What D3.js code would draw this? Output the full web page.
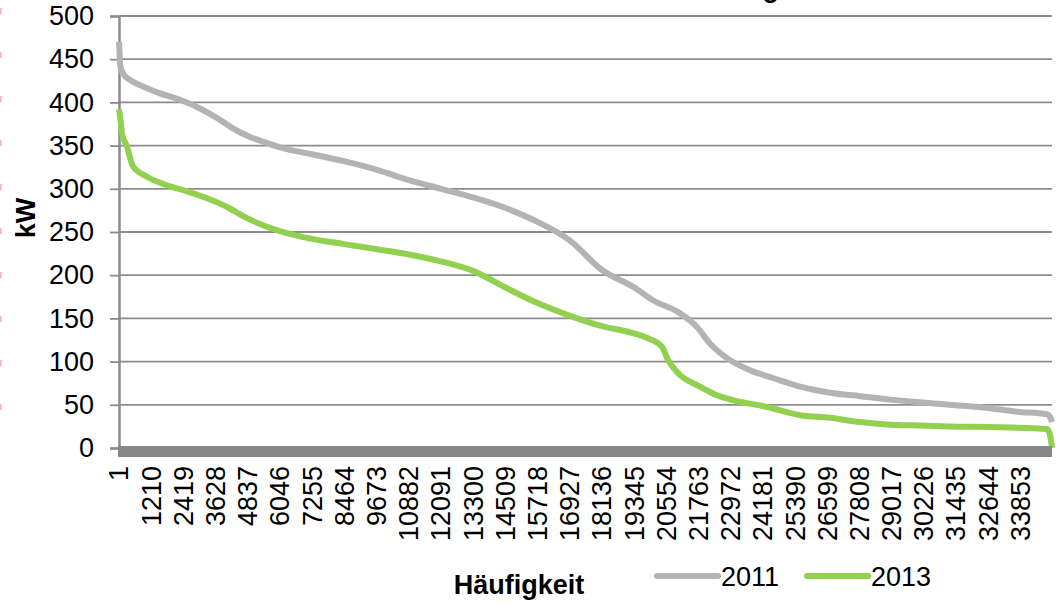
<!DOCTYPE html>
<html>
<head>
<meta charset="utf-8">
<script src="https://cdn.jsdelivr.net/npm/d3@7"></script>
<style>
  html, body { margin: 0; padding: 0; background: #fff; }
  svg { display: block; font-family: "Liberation Sans", Arial, sans-serif; }
</style>
</head>
<body>
<svg id="chart" width="1056" height="605"></svg>
<script>
// Load duration curve: quarter-hour values sorted in descending order
const totalSlots = 35040;
const tickStep = 1209;
const yTicks = [0, 50, 100, 150, 200, 250, 300, 350, 400, 450, 500];

// 2011 sorted load (slot index / kW)
const slots2011 = [1, 56, 188, 413, 789, 1540, 2291, 3042, 3680, 4281, 4920, 5558, 6046, 7248, 8450, 9690, 10891, 12093, 13295, 14497, 15698, 16938, 18140, 19341, 20055, 21069, 21707, 22195, 22834, 23698, 24562, 25576, 26703, 27829, 28956, 30082, 31209, 32448, 33725, 34852, 34965, 35040];
const kw2011 = [470, 441, 432, 426, 420, 410.5, 403, 393, 382, 370, 360, 353, 348, 340, 332, 322, 310, 300, 290, 278, 262, 240, 206, 186, 171, 156, 140, 121, 104, 90, 81, 71, 64, 60, 56, 53, 50, 47, 42, 39, 36, 30];

// 2013 sorted load (slot index / kW)
const slots2013 = [1, 75, 113, 300, 526, 1052, 1803, 2554, 3305, 4056, 4807, 5483, 6046, 6647, 7248, 8450, 9690, 10891, 12093, 13295, 14497, 15698, 16938, 18140, 19304, 19942, 20393, 20618, 20956, 21820, 22458, 23059, 24336, 25576, 26703, 27829, 28956, 30082, 31209, 33087, 34852, 34965, 35040];
const kw2013 = [392, 375, 364, 349, 326, 314, 304, 297, 289, 279, 266, 257, 251, 246, 242, 236, 230, 224, 216, 205, 186, 168, 153, 141, 133, 126, 117, 102, 88, 71, 61, 55.5, 47.5, 38, 35, 30, 27, 26, 25, 24, 22, 15, 0];

const seriesNames = ["2011", "2013"];
const seriesColors = ["#b3b3b3", "#92d050"];

const svg = d3.select("#chart");
const plot = { left: 119, right: 1052, top: 16, bottom: 448 };

const x = d3.scaleLinear().domain([0, totalSlots]).range([plot.left, plot.right]);
const y = d3.scaleLinear().domain([0, 500]).range([plot.bottom, plot.top]);

// faint dashed border left over at the page edge
svg.append("line")
  .attr("x1", 0.8).attr("x2", 0.8).attr("y1", 8).attr("y2", 440)
  .attr("stroke", "#f3b5b5").attr("stroke-width", 1.6)
  .attr("stroke-dasharray", "6,38");

// title (sits above the visible page area)
svg.append("text")
  .attr("x", 779).attr("y", -3)
  .attr("text-anchor", "end")
  .attr("font-size", 27).attr("font-weight", "bold")
  .text("Jahresdauerlinie Leistung");

// horizontal gridlines
svg.append("g").selectAll("line")
  .data(yTicks.filter(d => d > 0))
  .join("line")
  .attr("x1", plot.left).attr("x2", plot.right)
  .attr("y1", d => y(d)).attr("y2", d => y(d))
  .attr("stroke", "#8c8c8c").attr("stroke-width", 1.8);

// y axis
const yAxis = d3.axisLeft(y).tickValues(yTicks).tickSize(9).tickPadding(16).tickFormat(d3.format("d"));
const gy = svg.append("g").attr("transform", `translate(${plot.left},0)`).call(yAxis);
gy.select(".domain").attr("stroke", "#8c8c8c").attr("stroke-width", 2.5);
gy.selectAll(".tick line").attr("stroke", "#8c8c8c").attr("stroke-width", 1.8);
gy.selectAll(".tick text")
  .attr("font-size", 27).attr("fill", "#000")
  .attr("font-family", "Liberation Sans, Arial, sans-serif");

// y axis title
svg.append("text")
  .attr("transform", "translate(35,218) rotate(-90)")
  .attr("text-anchor", "middle")
  .attr("font-size", 27).attr("font-weight", "bold")
  .text("kW");

// series lines
const line = d3.line()
  .x(d => x(d[0]))
  .y(d => y(d[1]))
  .curve(d3.curveMonotoneX);

const series = [
  d3.zip(slots2011, kw2011),
  d3.zip(slots2013, kw2013)
];

svg.append("g").selectAll("path")
  .data(series)
  .join("path")
  .attr("d", line)
  .attr("fill", "none")
  .attr("stroke", (d, i) => seriesColors[i])
  .attr("stroke-width", 6)
  .attr("stroke-linejoin", "round");

// x axis: thick category baseline
svg.append("rect")
  .attr("x", plot.left - 1).attr("y", y(0) - 2)
  .attr("width", plot.right - plot.left + 1).attr("height", 11)
  .attr("fill", "#878787");

// x tick labels
const xTickValues = d3.range(1, totalSlots, tickStep);
svg.append("g").selectAll("text")
  .data(xTickValues)
  .join("text")
  .attr("transform", d => `translate(${x(d)},466) rotate(-90)`)
  .attr("text-anchor", "end")
  .attr("dy", "0.35em")
  .attr("font-size", 27)
  .text(d => d);

// x axis title
svg.append("text")
  .attr("x", 519).attr("y", 594)
  .attr("text-anchor", "middle")
  .attr("font-size", 27).attr("font-weight", "bold")
  .text("Häufigkeit");

// legend
const legendX = [657, 807];
const legend = svg.append("g").selectAll("g")
  .data(seriesNames)
  .join("g")
  .attr("transform", (d, i) => `translate(${legendX[i]},576)`);
legend.append("line")
  .attr("x1", 0).attr("x2", 61)
  .attr("stroke", (d, i) => seriesColors[i])
  .attr("stroke-width", 6)
  .attr("stroke-linecap", "round");
legend.append("text")
  .attr("x", 64).attr("y", 10)
  .attr("font-size", 27)
  .text(d => d);
</script>
</body>
</html>
